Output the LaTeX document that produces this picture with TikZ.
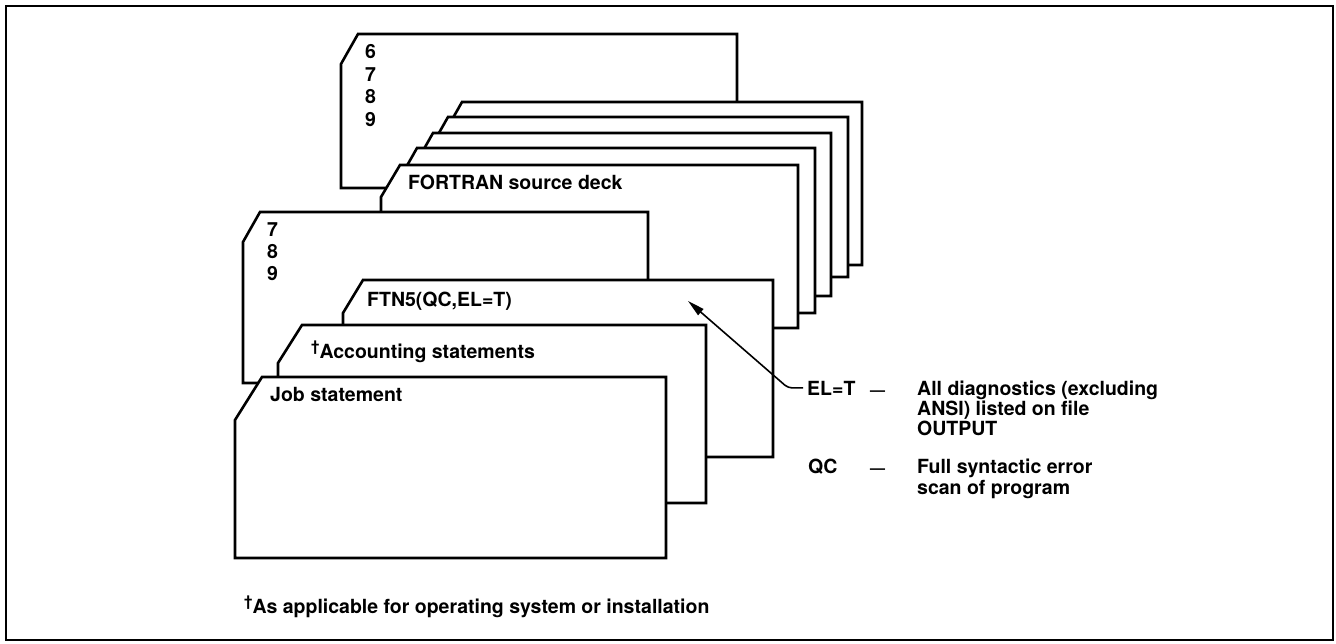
\documentclass[tikz,border=0pt]{standalone}
\usepackage{fontspec}
\setmainfont{TeX Gyre Heros}
\usetikzlibrary{arrows.meta}
\newcommand{\mycard}[6]{\draw[card] (#1,#2) -- (#5,#2) -- (#5,#6) -- (#3,#6) -- (#3,#4) -- cycle;}
\begin{document}
\begin{tikzpicture}[x=1pt,y=-1pt,
  card/.style={draw=black, fill=white, line width=2.6pt, line join=miter},
  lbl/.style={anchor=base west, inner sep=0pt, font=\fontsize{19.5}{22}\bfseries\selectfont},
  dsh/.style={anchor=base west, inner sep=0pt, font=\fontsize{15}{20}\bfseries\selectfont},
  dag/.style={font=\fontsize{15}{15}\bfseries\selectfont}]
\useasboundingbox (0,0) rectangle (1336,643);
\draw[line width=2.4pt] (6,6) rectangle (1333,640);
% back deck
\mycard{358}{34}{341}{64}{737}{188}
\mycard{462}{102}{445}{132}{862}{265}
\mycard{448}{117}{431}{147}{848}{277}
\mycard{433}{133}{416}{163}{831}{296}
\mycard{417}{148}{400}{178}{815}{313}
\mycard{400}{165}{381}{197}{798}{328}
% front deck
\mycard{260}{212}{243}{242}{648}{383}
\mycard{363}{280}{343}{313}{773}{457}
\mycard{302}{325}{278}{363}{706}{503}
\mycard{262}{377}{235}{420}{666}{558}
% texts
\node[lbl] (a6) at (365,58.5) {6};
\node[lbl] (a7) at (365,81) {7};
\node[lbl] (a8) at (365,103.5) {8};
\node[lbl] (a9) at (365,126) {9};
\node[lbl] (src) at (408,189.5) {FORTRAN source deck};
\node[lbl] (b7) at (267,236.5) {7};
\node[lbl] (b8) at (267,258.5) {8};
\node[lbl] (b9) at (267,280.5) {9};
\node[lbl] (ftn) at (367,306.5) {FTN5(QC,EL=T)};
\node[lbl] (acc) at (311,358) {\raisebox{7pt}{\fontsize{15}{15}\selectfont †}Accounting statements};
\node[lbl] (job) at (270,401.5) {Job statement};
\node[lbl, inner xsep=4pt] (elt) at (803,395) {EL=T};
\node[dsh] (d1) at (870,395) {—};
\node[lbl] (e1) at (917,395) {All diagnostics (excluding};
\node[lbl] (e2) at (917,415) {ANSI) listed on file};
\node[lbl] (e3) at (917,435) {OUTPUT};
\node[lbl] (qc) at (808,473) {QC};
\node[dsh] (d2) at (870,473) {—};
\node[lbl] (q1) at (917,473) {Full syntactic error};
\node[lbl] (q2) at (917,494) {scan of program};
\node[lbl] (fn) at (244,613) {\raisebox{7pt}{\fontsize{15}{15}\selectfont †}As applicable for operating system or installation};
% arrow
\coordinate (tip) at (688,301);
\draw[line width=1.6pt, rounded corners=4pt, -{Triangle[length=17pt,width=8pt]}]
  (elt.west) -- ++(-15,0) -- (tip);
\end{tikzpicture}
\end{document}
